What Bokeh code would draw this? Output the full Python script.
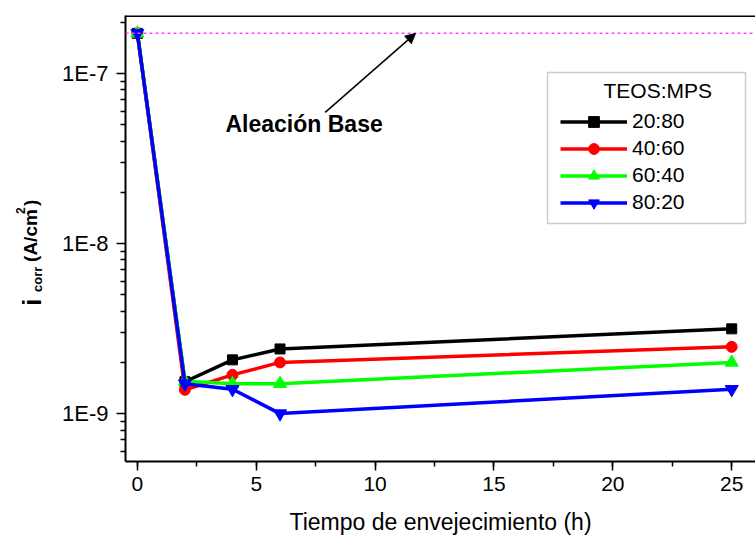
import math
from bokeh.plotting import figure
from bokeh.layouts import row
from bokeh.core.properties import value
from bokeh.models import (Range1d, FixedTicker, SingleIntervalTicker, Span, Arrow,
                          NormalHead, Label, BoxAnnotation, Legend, LegendItem)
from bokeh.embed import file_html
from bokeh.resources import INLINE

# ---------------- data ----------------
tiempo_h = [0, 2, 4, 6, 25]
icorr_20_80 = [1.72e-7, 1.54e-9, 2.07e-9, 2.40e-9, 3.15e-9]
icorr_40_60 = [1.72e-7, 1.38e-9, 1.69e-9, 2.00e-9, 2.47e-9]
icorr_60_40 = [1.72e-7, 1.55e-9, 1.50e-9, 1.50e-9, 2.00e-9]
icorr_80_20 = [1.72e-7, 1.50e-9, 1.39e-9, 1.00e-9, 1.39e-9]
base_alloy_icorr = 1.72e-7

series_labels = ["20:80", "40:60", "60:40", "80:20"]
legend_title = "TEOS:MPS"
y_tick_values = [1e-9, 1e-8, 1e-7]
y_tick_labels = ["1E-9", "1E-8", "1E-7"]
x_axis_title = "Tiempo de envejecimiento (h)"
y_axis_title_parts = ["i", "corr", "(A/cm", "2", ")"]
annotation_text = "Aleación Base"
arrow_from = (7.9, 5.9e-8)
arrow_to = (11.7, 1.72e-7)

FONT = "Liberation Sans"
W, H = 755, 537
LEFT_W = 45
FRAME_LEFT, FRAME_TOP, FRAME_BOTTOM = 125, 15, 462

# ---------------- y-axis title panel ----------------
lab_fig = figure(width=LEFT_W, height=H, x_range=Range1d(0, LEFT_W),
                 y_range=Range1d(H - FRAME_BOTTOM, H - FRAME_TOP),
                 output_backend="svg", toolbar_location=None,
                 min_border_left=0, min_border_right=0,
                 min_border_top=FRAME_TOP, min_border_bottom=H - FRAME_BOTTOM)
lab_fig.axis.visible = False
lab_fig.grid.visible = False
lab_fig.outline_line_color = None
# (baseline x in px, start y in px from top, font size)
part_pos = [(31, 306, "25px"), (37, 292, "13px"), (30, 262, "19px"), (20, 214, "12px"), (30, 206, "19px")]
for txt, (sx, sy, fs) in zip(y_axis_title_parts, part_pos):
    lab_fig.text(x=[sx], y=[H - sy], text=[txt], angle=math.pi / 2,
                 text_font=value(FONT), text_font_size=fs, text_font_style="bold",
                 text_color="black", text_align="left", text_baseline="alphabetic")

# ---------------- main plot ----------------
p = figure(width=W - LEFT_W, height=H, y_axis_type="log",
           x_range=Range1d(-0.5, 26), y_range=Range1d(5.23e-10, 2.19e-7),
           output_backend="svg", toolbar_location=None,
           min_border_left=FRAME_LEFT - LEFT_W, min_border_right=0, min_border_top=FRAME_TOP,
           min_border_bottom=H - FRAME_BOTTOM)
p.grid.visible = False
p.outline_line_color = None

minor_y = [k * 10.0 ** e for e in range(-10, -6) for k in range(2, 10)]
p.yaxis.ticker = FixedTicker(ticks=y_tick_values, minor_ticks=minor_y)
p.yaxis.major_label_overrides = dict(zip(y_tick_values, y_tick_labels))
p.xaxis.ticker = SingleIntervalTicker(interval=5, num_minor_ticks=2)
for ax in (p.xaxis, p.yaxis):
    ax.axis_line_width = 2
    ax.axis_line_color = "black"
    ax.major_tick_line_width = 1.5
    ax.minor_tick_line_width = 1.5
    ax.major_tick_in = 0
    ax.major_tick_out = 9
    ax.minor_tick_in = 0
    ax.minor_tick_out = 5
    ax.major_label_text_font = FONT
    ax.major_label_text_color = "black"
p.yaxis.major_label_text_font_size = "22px"
p.yaxis.major_label_standoff = 8
p.xaxis.major_label_text_font_size = "21px"
p.xaxis.major_label_standoff = 6
p.xaxis.axis_label = x_axis_title
p.xaxis.axis_label_text_font = FONT
p.xaxis.axis_label_text_font_size = "23px"
p.xaxis.axis_label_text_font_style = "normal"
p.xaxis.axis_label_text_color = "black"
p.xaxis.axis_label_standoff = 15

# top frame line
p.add_layout(Span(location=2.19e-7, dimension="width", line_color="black", line_width=3))
# base alloy reference line
p.add_layout(Span(location=base_alloy_icorr, dimension="width", line_color="#ff44ff",
                  line_width=1.5, line_dash="3 3"))

series = [
    (icorr_20_80, "black", "square", 10),
    (icorr_40_60, "red", "circle", 11),
    (icorr_60_40, "#00ff00", "triangle", 13),
    (icorr_80_20, "blue", "inverted_triangle", 13),
]
items = []
for (vals, col, mk, sz), lab in zip(series, series_labels):
    r1 = p.line(tiempo_h, vals, line_color=col, line_width=3.5)
    r2 = p.scatter(tiempo_h, vals, marker=mk, size=sz, fill_color=col, line_color=col)
    items.append(LegendItem(label=lab, renderers=[r1, r2]))

p.add_layout(Arrow(x_start=arrow_from[0], y_start=arrow_from[1], x_end=arrow_to[0], y_end=arrow_to[1],
                   line_color="black", line_width=1.5,
                   end=NormalHead(size=10, fill_color="black", line_color="black")))
p.add_layout(Label(x=225 - FRAME_LEFT, y=FRAME_BOTTOM - 137, x_units="screen", y_units="screen",
                   text=annotation_text, text_font=FONT, text_font_size="23px",
                   text_font_style="bold", text_color="black"))

p.add_layout(BoxAnnotation(left=547 - FRAME_LEFT, right=745 - FRAME_LEFT,
                           top=FRAME_BOTTOM - 73, bottom=FRAME_BOTTOM - 224,
                           left_units="screen", right_units="screen",
                           top_units="screen", bottom_units="screen",
                           fill_color="white", fill_alpha=1.0,
                           line_color="#555555", line_width=1.5))
legend = Legend(items=items, location=(560 - FRAME_LEFT, FRAME_BOTTOM - 216.5),
                padding=0, margin=0, spacing=0, glyph_width=67, glyph_height=27,
                label_height=27, label_standoff=5, border_line_color=None,
                background_fill_alpha=0, label_text_font=FONT,
                label_text_font_size="21px", label_text_color="black")
p.add_layout(legend)
p.add_layout(Label(x=603 - FRAME_LEFT, y=FRAME_BOTTOM - 102, x_units="screen", y_units="screen",
                   text=legend_title, text_font=FONT, text_font_size="21px", text_color="black"))

layout = row(lab_fig, p, spacing=0)
open("out.html", "w").write(file_html(layout, INLINE))
